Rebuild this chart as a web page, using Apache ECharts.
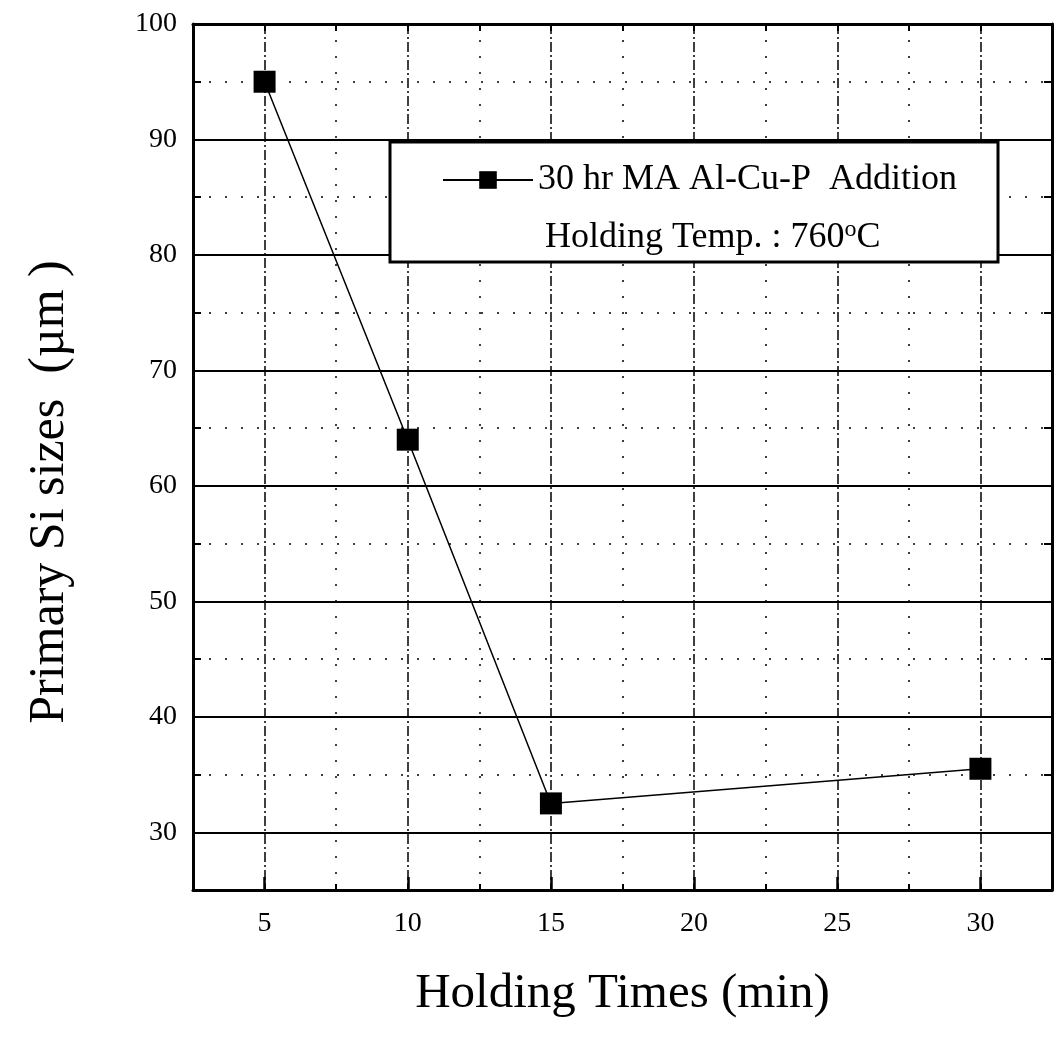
<!DOCTYPE html>
<html>
<head>
    <meta charset="UTF-8">
    <title>Primary Si sizes vs Holding Times</title>
    <script src="https://cdn.jsdelivr.net/npm/echarts@6/dist/echarts.min.js"></script>
    <style>
        body { margin: 0; background: #fff; }
        #chartContainer { width: 1061px; height: 1050px; }
    </style>
</head>
<body>
<div id="chartContainer"></div>
<script>
    // data
    var holdingTimes = [5, 10, 15, 30];
    var siSizes = [95, 64, 32.5, 35.5];
    var seriesName = '30 hr MA Al-Cu-P  Addition';
    var xLabelValues = [5, 10, 15, 20, 25, 30];
    var yLabelValues = [30, 40, 50, 60, 70, 80, 90, 100];

    var serif = 'Liberation Serif';
    var clear = 'rgba(0,0,0,0)';

    function pointData() {
        var data = [];
        for (var i = 0; i < holdingTimes.length; i++) {
            data.push([holdingTimes[i], siSizes[i]]);
        }
        return data;
    }

    var myChart = echarts.init(document.getElementById('chartContainer'));
    var option = {
        backgroundColor: '#fff',
        animation: false,
        grid: { left: 193, right: 9, top: 24, bottom: 160 },
        xAxis: [
            {
                // bottom axis: labels, dash-dot grid at every 5
                type: 'value', min: 2.5, max: 32.5, interval: 2.5, position: 'bottom',
                name: 'Holding Times (min)', nameLocation: 'middle', nameGap: 80,
                nameTextStyle: { fontFamily: serif, fontSize: 49, color: '#000' },
                axisLine: { show: true, lineStyle: { color: '#000', width: 3 } },
                axisTick: { show: true, inside: true, length: 6, lineStyle: { color: '#000', width: 2 } },
                axisLabel: {
                    margin: 20, fontFamily: serif, fontSize: 28, color: '#000',
                    formatter: function (v) { return xLabelValues.indexOf(v) >= 0 ? v : ''; }
                },
                splitLine: { show: true, lineStyle: { color: [clear, '#000'], width: 1.5, type: [10, 3, 2, 3] } }
            },
            {
                // top frame, dotted grid at the 2.5 steps
                type: 'value', min: 2.5, max: 32.5, interval: 2.5, position: 'top',
                axisLine: { show: true, lineStyle: { color: '#000', width: 3 } },
                axisTick: { show: true, inside: true, length: 7, lineStyle: { color: '#000', width: 2 } },
                axisLabel: { show: false },
                splitLine: { show: true, lineStyle: { color: ['#000', clear], width: 1.5, type: [2, 14] } }
            },
            {
                // long major ticks on the bottom
                type: 'value', min: 2.5, max: 32.5, position: 'bottom',
                axisLine: { show: false },
                axisTick: { show: true, inside: true, length: 13, customValues: xLabelValues, lineStyle: { color: '#000', width: 2.5 } },
                axisLabel: { show: false },
                splitLine: { show: false }
            }
        ],
        yAxis: [
            {
                type: 'value', min: 25, max: 100, interval: 5, position: 'left',
                name: 'Primary Si sizes  (\u00b5m )', nameLocation: 'middle', nameGap: 118,
                nameTextStyle: { fontFamily: serif, fontSize: 50, color: '#000', padding: [0, 70, 0, 0] },
                axisLine: { show: true, lineStyle: { color: '#000', width: 3 } },
                axisTick: { show: true, inside: true, length: 8, lineStyle: { color: '#000', width: 2 } },
                axisLabel: {
                    margin: 16, fontFamily: serif, fontSize: 28, color: '#000',
                    formatter: function (v) { return yLabelValues.indexOf(v) >= 0 ? v : ''; }
                },
                splitLine: { show: true, lineStyle: { color: [clear, '#000'], width: 2 } }
            },
            {
                type: 'value', min: 25, max: 100, interval: 5, position: 'right',
                axisLine: { show: true, lineStyle: { color: '#000', width: 3 } },
                axisTick: { show: true, inside: true, length: 8, lineStyle: { color: '#000', width: 2 } },
                axisLabel: { show: false },
                splitLine: { show: true, lineStyle: { color: ['#000', clear], width: 1.5, type: [2, 14] } }
            }
        ],
        legend: {
            left: 437, top: 157, z: 6,
            itemWidth: 90, itemHeight: 22,
            textStyle: { fontFamily: serif, fontSize: 36, color: '#000' },
            data: [seriesName]
        },
        graphic: [
            {
                type: 'rect', z: 3,
                shape: { x: 390, y: 142, width: 608, height: 120 },
                style: { fill: '#fff', stroke: '#000', lineWidth: 3 }
            },
            {
                type: 'text', z: 6, left: 545, top: 218,
                style: {
                    text: 'Holding Temp. : 760{sup|o}C',
                    font: '36px "Liberation Serif"',
                    fill: '#000',
                    rich: {
                        sup: { fontSize: 24, fontFamily: serif, padding: [0, 0, 16, 0] }
                    }
                }
            }
        ],
        series: [{
            name: seriesName,
            type: 'line',
            xAxisIndex: 0,
            yAxisIndex: 0,
            data: pointData(),
            symbol: 'rect',
            symbolSize: 22,
            itemStyle: { color: '#000' },
            lineStyle: { color: '#000', width: 1.5 }
        }]
    };
    myChart.setOption(option);
</script>
</body>
</html>
